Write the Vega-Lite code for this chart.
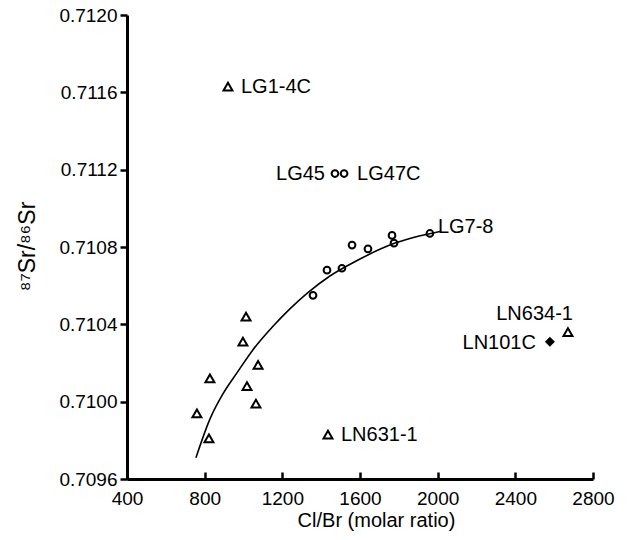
{
  "$schema": "https://vega.github.io/schema/vega-lite/v6.json",
  "autosize": {"type": "none"},
  "padding": {"left": 127, "top": 15, "right": 36, "bottom": 61},
  "width": 466,
  "height": 464,
  "background": "white",
  "config": {
    "view": {"stroke": null},
    "font": "Liberation Sans",
    "axis": {"grid": false, "domainColor": "black", "tickColor": "black", "labelColor": "black", "titleColor": "black", "labelFont": "Liberation Sans", "titleFont": "Liberation Sans", "titleFontWeight": "normal"}
  },
  "datasets": {
    "curve": [
      {"cl": 755, "sr": 0.70971},
      {"cl": 827, "sr": 0.70991},
      {"cl": 894, "sr": 0.71004},
      {"cl": 967, "sr": 0.71015},
      {"cl": 1050, "sr": 0.71027},
      {"cl": 1152, "sr": 0.71039},
      {"cl": 1239, "sr": 0.71048},
      {"cl": 1327, "sr": 0.71056},
      {"cl": 1445, "sr": 0.71065},
      {"cl": 1585, "sr": 0.71073},
      {"cl": 1754, "sr": 0.71081},
      {"cl": 1880, "sr": 0.71085},
      {"cl": 2012, "sr": 0.71088}
    ],
    "pts": [
      {"cl": 760, "sr": 0.70994, "kind": "triangle", "label": ""},
      {"cl": 822, "sr": 0.70981, "kind": "triangle", "label": ""},
      {"cl": 827, "sr": 0.71012, "kind": "triangle", "label": ""},
      {"cl": 1013, "sr": 0.71044, "kind": "triangle", "label": ""},
      {"cl": 997, "sr": 0.71031, "kind": "triangle", "label": ""},
      {"cl": 1075, "sr": 0.71019, "kind": "triangle", "label": ""},
      {"cl": 1018, "sr": 0.71008, "kind": "triangle", "label": ""},
      {"cl": 1064, "sr": 0.70999, "kind": "triangle", "label": ""},
      {"cl": 920, "sr": 0.71163, "kind": "triangle", "label": "LG1-4C"},
      {"cl": 1435, "sr": 0.70983, "kind": "triangle", "label": "LN631-1"},
      {"cl": 2671, "sr": 0.71036, "kind": "triangle", "label": "LN634-1"},
      {"cl": 1471, "sr": 0.71118, "kind": "circle", "label": "LG45"},
      {"cl": 1518, "sr": 0.71118, "kind": "circle", "label": "LG47C"},
      {"cl": 1960, "sr": 0.71087, "kind": "circle", "label": "LG7-8"},
      {"cl": 1765, "sr": 0.71086, "kind": "circle", "label": ""},
      {"cl": 1775, "sr": 0.71082, "kind": "circle", "label": ""},
      {"cl": 1641, "sr": 0.71079, "kind": "circle", "label": ""},
      {"cl": 1559, "sr": 0.71081, "kind": "circle", "label": ""},
      {"cl": 1507, "sr": 0.71069, "kind": "circle", "label": ""},
      {"cl": 1430, "sr": 0.71068, "kind": "circle", "label": ""},
      {"cl": 1358, "sr": 0.71055, "kind": "circle", "label": ""},
      {"cl": 2578, "sr": 0.71031, "kind": "diamond", "label": "LN101C"}
    ]
  },
  "encoding": {
    "x": {"field": "cl", "type": "quantitative", "scale": {"domain": [400, 2800], "nice": false, "zero": false}},
    "y": {"field": "sr", "type": "quantitative", "scale": {"domain": [0.7096, 0.712], "nice": false, "zero": false}}
  },
  "layer": [
    {
      "data": {"name": "curve"},
      "mark": {"type": "line", "color": "black", "strokeWidth": 1.6, "interpolate": "monotone"},
      "encoding": {
        "x": {"field": "cl", "type": "quantitative", "axis": {
          "title": "Cl/Br (molar ratio)", "titleFontSize": 20, "titleX": 249, "titleY": 47, "titleBaseline": "alphabetic", "titleAnchor": "middle",
          "values": [400, 600, 800, 1000, 1200, 1400, 1600, 1800, 2000, 2200, 2400, 2600, 2800],
          "labelExpr": "datum.value % 400 == 0 ? datum.label : ''", "format": "d",
          "labelFontSize": 19, "labelPadding": 17, "tickSize": -7, "tickWidth": 2.5, "domainWidth": 3, "labelFlush": false, "labelOverlap": false}},
        "y": {"field": "sr", "type": "quantitative", "axis": {
          "title": "⁸⁷Sr/⁸⁶Sr", "titleFontSize": 23, "titleAngle": -90, "titleX": -100, "titleY": 231, "titleAlign": "center", "titleBaseline": "middle",
          "values": [0.7096, 0.7098, 0.71, 0.7102, 0.7104, 0.7106, 0.7108, 0.711, 0.7112, 0.7114, 0.7116, 0.7118, 0.712],
          "labelExpr": "round(datum.value * 10000) % 4 == 0 ? format(datum.value, '.4f') : ''",
          "labelFontSize": 19, "labelPadding": 3,
          "tickSize": {"condition": {"test": "round(datum.value * 10000) % 4 == 0", "value": 7}, "value": -7},
          "tickWidth": 2.5, "domainWidth": 3, "labelFlush": false, "labelOverlap": false}}
      }
    },
    {
      "data": {"name": "pts"},
      "transform": [{"filter": "datum.kind != 'diamond'"}],
      "mark": {"type": "point", "filled": false, "color": "black", "strokeWidth": 2, "opacity": 1},
      "encoding": {
        "shape": {"field": "kind", "type": "nominal", "scale": {"domain": ["triangle", "circle"], "range": ["triangle-up", "circle"]}, "legend": null},
        "size": {"field": "kind", "type": "nominal", "scale": {"domain": ["triangle", "circle"], "range": [80, 45]}, "legend": null}
      }
    },
    {
      "data": {"name": "pts"},
      "transform": [{"filter": "datum.kind == 'diamond'"}],
      "mark": {"type": "point", "shape": "diamond", "filled": true, "color": "black", "size": 100, "opacity": 1}
    },
    {
      "data": {"name": "pts"},
      "transform": [{"filter": "indexof(['LG1-4C','LG47C','LN631-1'], datum.label) >= 0"}],
      "mark": {"type": "text", "align": "left", "baseline": "middle", "dx": 13, "fontSize": 20, "color": "black"},
      "encoding": {"text": {"field": "label"}}
    },
    {
      "data": {"name": "pts"},
      "transform": [{"filter": "datum.label == 'LG45'"}],
      "mark": {"type": "text", "align": "right", "baseline": "middle", "dx": -10, "fontSize": 20, "color": "black"},
      "encoding": {"text": {"field": "label"}}
    },
    {
      "data": {"name": "pts"},
      "transform": [{"filter": "datum.label == 'LG7-8'"}],
      "mark": {"type": "text", "align": "left", "baseline": "middle", "dx": 8, "dy": -6, "fontSize": 20, "color": "black"},
      "encoding": {"text": {"field": "label"}}
    },
    {
      "data": {"name": "pts"},
      "transform": [{"filter": "datum.label == 'LN634-1'"}],
      "mark": {"type": "text", "align": "right", "baseline": "middle", "dx": 5, "dy": -18, "fontSize": 20, "color": "black"},
      "encoding": {"text": {"field": "label"}}
    },
    {
      "data": {"name": "pts"},
      "transform": [{"filter": "datum.label == 'LN101C'"}],
      "mark": {"type": "text", "align": "right", "baseline": "middle", "dx": -14, "dy": 1, "fontSize": 20, "color": "black"},
      "encoding": {"text": {"field": "label"}}
    }
  ]
}
